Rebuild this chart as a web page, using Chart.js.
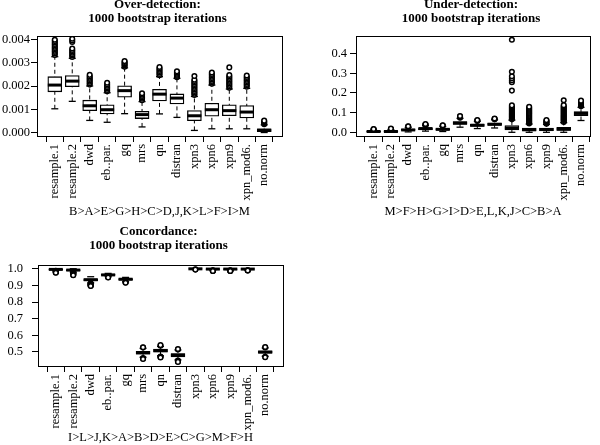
<!DOCTYPE html>
<html>
<head>
<meta charset="utf-8">
<script src="https://cdn.jsdelivr.net/npm/chart.js@4.4.1/dist/chart.umd.min.js"></script>
<style>
  html, body { margin: 0; padding: 0; background: #fff; }
  #wrap { position: relative; width: 600px; height: 445px; overflow: hidden; }
  canvas { position: absolute; }
</style>
</head>
<body>
<div id="wrap">
  <canvas id="over" width="300" height="222" style="left:0;top:0"></canvas>
  <canvas id="under" width="300" height="222" style="left:300px;top:0"></canvas>
  <canvas id="conc" width="300" height="223" style="left:0;top:222px"></canvas>
</div>
<script>
const methods = ['resample.1', 'resample.2', 'dwd', 'eb..par.', 'gq', 'mrs', 'qn', 'distran', 'xpn3', 'xpn6', 'xpn9', 'xpn_mod6.', 'no.norm'];

// Over-detection
const overLo  = [0.00102, 0.00134, 0.00052, 0.00044, 0.00081, 0.00024, 0.0008, 0.00065, 0.00009, 0.00016, 0.00016, 0.00016, 0.0];
const overQ1  = [0.00175, 0.00197, 0.00094, 0.0008, 0.00152, 0.0006, 0.00136, 0.00123, 0.00051, 0.0007, 0.00072, 0.00063, 0.00004];
const overMed = [0.00204, 0.00221, 0.00115, 0.00098, 0.0018, 0.00077, 0.00165, 0.00148, 0.00072, 0.00098, 0.00094, 0.00088, 0.0001];
const overQ3  = [0.0024, 0.00245, 0.00139, 0.00119, 0.00201, 0.00091, 0.00186, 0.00166, 0.00094, 0.00126, 0.00119, 0.00116, 0.00016];
const overHi  = [0.00326, 0.00319, 0.002, 0.00171, 0.00278, 0.00133, 0.0024, 0.00233, 0.00155, 0.00204, 0.00187, 0.0019, 0.00033];
const overOut = [
  [0.00333, 0.0034, 0.00346, 0.00352, 0.00358, 0.00363, 0.00369, 0.00375, 0.00381, 0.00387, 0.00393, 0.00399],
  [0.00325, 0.00331, 0.00337, 0.00343, 0.00349, 0.00355, 0.00361, 0.00389, 0.00396, 0.00403],
  [0.00206, 0.00212, 0.00218, 0.00224, 0.0023, 0.00236, 0.00242, 0.00248],
  [0.00177, 0.00183, 0.00189, 0.00195, 0.00201, 0.00207, 0.00214],
  [0.00283, 0.00288, 0.00293, 0.00298, 0.00303, 0.00307],
  [0.00139, 0.00145, 0.00151, 0.00157, 0.00163, 0.00169],
  [0.00246, 0.00252, 0.00258, 0.00264, 0.0027, 0.00276, 0.00282],
  [0.00238, 0.00243, 0.00248, 0.00253, 0.00258, 0.00263],
  [0.00161, 0.00167, 0.00173, 0.00179, 0.00185, 0.00191, 0.00197, 0.00203, 0.00209, 0.00215, 0.00221, 0.00227, 0.00243],
  [0.0021, 0.00216, 0.00222, 0.00228, 0.00234, 0.0024, 0.00246, 0.00252, 0.00258],
  [0.00193, 0.00199, 0.00205, 0.00211, 0.00217, 0.00223, 0.00229, 0.00235, 0.00241, 0.00247, 0.0028],
  [0.00197, 0.00203, 0.00209, 0.00215, 0.00221, 0.00227, 0.00233, 0.00239, 0.00245],
  [0.00036, 0.0004, 0.00044, 0.00048, 0.00051]
];
const overTicks = [0, 0.001, 0.002, 0.003, 0.004];
const overTickLabels = ['0.000', '0.001', '0.002', '0.003', '0.004'];

// Under-detection
const underLo  = [0, 0, 0.002, 0.006, 0.004, 0.026, 0.019, 0.022, 0, 0, 0, 0, 0.06];
const underQ1  = [0.002, 0.002, 0.009, 0.014, 0.011, 0.04, 0.03, 0.035, 0.012, 0.007, 0.008, 0.009, 0.085];
const underMed = [0.004, 0.004, 0.012, 0.019, 0.015, 0.047, 0.036, 0.041, 0.022, 0.013, 0.014, 0.016, 0.096];
const underQ3  = [0.006, 0.007, 0.016, 0.023, 0.019, 0.054, 0.041, 0.047, 0.034, 0.021, 0.021, 0.025, 0.106];
const underHi  = [0.011, 0.013, 0.025, 0.034, 0.03, 0.071, 0.056, 0.064, 0.062, 0.042, 0.04, 0.049, 0.127];
const underOut = [
  [0.013, 0.015, 0.017],
  [0.015, 0.017, 0.019],
  [0.027, 0.029, 0.031],
  [0.036, 0.038, 0.04, 0.042],
  [0.032, 0.034, 0.036],
  [0.074, 0.077, 0.08, 0.083],
  [0.058, 0.06, 0.062],
  [0.066, 0.068, 0.07],
  [0.066, 0.071, 0.076, 0.081, 0.086, 0.091, 0.096, 0.101, 0.106, 0.111, 0.116, 0.121, 0.126, 0.131, 0.137, 0.212, 0.255, 0.265, 0.275, 0.285, 0.308, 0.471],
  [0.045, 0.05, 0.055, 0.06, 0.065, 0.07, 0.075, 0.08, 0.085, 0.09, 0.095, 0.1, 0.105, 0.11, 0.115, 0.12, 0.125, 0.13],
  [0.043, 0.047, 0.051, 0.055, 0.059, 0.062],
  [0.052, 0.057, 0.062, 0.067, 0.072, 0.077, 0.082, 0.087, 0.092, 0.097, 0.102, 0.107, 0.112, 0.117, 0.122, 0.127, 0.132, 0.138, 0.163],
  [0.132, 0.137, 0.142, 0.147, 0.152, 0.157, 0.161]
];
const underTicks = [0, 0.1, 0.2, 0.3, 0.4];
const underTickLabels = ['0.0', '0.1', '0.2', '0.3', '0.4'];

// Concordance
const concLo  = [0.99, 0.98, 0.915, 0.953, 0.922, 0.468, 0.477, 0.452, 0.997, 0.992, 0.992, 0.993, 0.474];
const concQ1  = [0.994, 0.988, 0.928, 0.96, 0.932, 0.487, 0.498, 0.47, 0.999, 0.996, 0.996, 0.997, 0.492];
const concMed = [0.996, 0.992, 0.934, 0.963, 0.937, 0.495, 0.508, 0.481, 0.9995, 0.998, 0.998, 0.998, 0.499];
const concQ3  = [0.998, 0.995, 0.94, 0.966, 0.941, 0.503, 0.517, 0.49, 1.0, 0.999, 0.999, 0.999, 0.506];
const concHi  = [1.0, 1.0, 0.952, 0.972, 0.948, 0.522, 0.533, 0.512, 1.0, 1.0, 1.0, 1.0, 0.524];
const concOut = [
  [0.988, 0.986, 0.984, 0.982, 0.98, 0.978, 0.976],
  [0.978, 0.976, 0.974, 0.972, 0.969, 0.966, 0.963, 0.961],
  [0.912, 0.91, 0.908, 0.906, 0.904, 0.902, 0.9, 0.898, 0.896],
  [0.951, 0.949, 0.947],
  [0.92, 0.918, 0.916],
  [0.526, 0.528, 0.464, 0.461, 0.458],
  [0.537, 0.541, 0.473, 0.47, 0.467],
  [0.515, 0.518, 0.449, 0.446, 0.443, 0.44],
  [0.996, 0.995],
  [0.99, 0.989, 0.988, 0.987, 0.986],
  [0.99, 0.989, 0.988, 0.987, 0.986],
  [0.991, 0.99, 0.989],
  [0.527, 0.53, 0.471, 0.468]
];
const concTicks = [0.5, 0.6, 0.7, 0.8, 0.9, 1.0];
const concTickLabels = ['0.5', '0.6', '0.7', '0.8', '0.9', '1.0'];

const titles = [
  ['Over-detection:', '1000 bootstrap iterations'],
  ['Under-detection:', '1000 bootstrap iterations'],
  ['Concordance:', '1000 bootstrap iterations']
];
const rankings = ['B>A>E>G>H>C>D,J,K>L>F>I>M', 'M>F>H>G>I>D>E,L,K,J>C>B>A', 'I>L>J,K>A>B>D>E>C>G>M>F>H'];

const FONT = '"Liberation Serif", serif';
Chart.defaults.font.family = FONT;
Chart.defaults.color = '#000';

// box around the plot region, like R's box()
const framePlugin = {
  id: 'frame',
  afterDraw(chart) {
    const a = chart.chartArea;
    const ctx = chart.ctx;
    ctx.save();
    ctx.strokeStyle = '#000';
    ctx.lineWidth = 1;
    ctx.strokeRect(Math.round(a.left) + 0.5, Math.round(a.top) + 0.5, Math.round(a.right - a.left), Math.round(a.bottom - a.top));
    ctx.restore();
  }
};

// two-line bold title centred over the plot region
const titlePlugin = {
  id: 'panelTitle',
  afterDraw(chart, args, opts) {
    const a = chart.chartArea;
    const ctx = chart.ctx;
    ctx.save();
    ctx.font = 'bold 13px ' + FONT;
    ctx.fillStyle = '#000';
    ctx.textAlign = 'center';
    ctx.textBaseline = 'middle';
    opts.lines.forEach((t, k) => ctx.fillText(t, (a.left + a.right) / 2 - 2, opts.y[k]));
    ctx.restore();
  }
};

function drawPanel(id, p) {
  const xs = methods.map((m, i) => i + 1);

  const whiskers = [];
  xs.forEach((x, i) => {
    whiskers.push({ x, y: p.lo[i] }, { x, y: p.hi[i] }, { x, y: null });
  });
  const caps = xs.flatMap((x, i) => [{ x, y: p.lo[i] }, { x, y: p.hi[i] }]);
  const boxes = xs.map((x, i) => ({ x, y: [p.q1[i], p.q3[i]] }));
  const medians = xs.map((x, i) => ({ x, y: p.med[i] }));
  const outliers = p.out.flatMap((vals, i) => vals.map(v => ({ x: i + 1, y: v })));

  return new Chart(document.getElementById(id), {
    type: 'bar',
    data: {
      datasets: [
        {
          type: 'line', data: whiskers, order: 5,
          borderColor: '#000', borderWidth: 1, borderDash: [4, 3],
          pointRadius: 0, spanGaps: false
        },
        {
          type: 'line', data: caps, order: 4, showLine: false,
          pointStyle: 'line', pointRadius: 3.5, pointBorderWidth: 1.3, pointBorderColor: '#000'
        },
        {
          data: boxes, order: 3,
          backgroundColor: '#fff', borderColor: '#000', borderWidth: 1.3,
          borderSkipped: false, barThickness: 14
        },
        {
          type: 'line', data: medians, order: 2, showLine: false,
          pointStyle: 'line', pointRadius: 7, pointBorderWidth: 3, pointBorderColor: '#000'
        },
        {
          type: 'line', data: outliers, order: 1, showLine: false,
          pointStyle: 'circle', pointRadius: 2.3, pointBorderWidth: 1.5,
          pointBorderColor: '#000', pointBackgroundColor: '#fff'
        }
      ]
    },
    options: {
      responsive: false,
      animation: false,
      layout: { padding: { top: p.top, right: p.right, left: 0, bottom: 0 } },
      plugins: {
        legend: { display: false },
        tooltip: { enabled: false },
        panelTitle: { lines: p.title, y: p.titleY }
      },
      scales: {
        x: {
          type: 'linear',
          min: p.xMin,
          max: p.xMax,
          offset: false,
          afterBuildTicks: s => { s.ticks = xs.map(v => ({ value: v })); },
          afterFit: s => { s.height = p.xHeight; },
          ticks: {
            autoSkip: false, minRotation: 90, maxRotation: 90, padding: 2,
            color: '#000', font: { size: 12.5 },
            callback: (v, i) => methods[i]
          },
          grid: { drawOnChartArea: false, tickLength: 6, color: '#000' },
          border: { display: false },
          title: {
            display: true, text: p.rank, color: '#000',
            font: { size: 12.5 }, padding: { top: 0, bottom: p.rankPad }
          }
        },
        y: {
          type: 'linear',
          min: p.yMin,
          max: p.yMax,
          afterBuildTicks: s => { s.ticks = p.ticks.map(v => ({ value: v })); },
          afterFit: s => { s.width = p.yWidth; },
          ticks: {
            padding: p.yPad, color: '#000', font: { size: 12.5 },
            callback: (v, i) => p.tickLabels[i]
          },
          grid: { drawOnChartArea: false, tickLength: 6, color: '#000' },
          border: { display: false }
        }
      }
    },
    plugins: [framePlugin, titlePlugin]
  });
}

drawPanel('over', {
  lo: overLo, q1: overQ1, med: overMed, q3: overQ3, hi: overHi, out: overOut,
  ticks: overTicks, tickLabels: overTickLabels, title: titles[0], rank: rankings[0],
  yMin: -0.00015, yMax: 0.00415, xMin: -0.02, xMax: 14.02,
  top: 36, right: 18, yWidth: 37, xHeight: 86, yPad: 1, rankPad: 3, titleY: [5, 19]
});

drawPanel('under', {
  lo: underLo, q1: underQ1, med: underMed, q3: underQ3, hi: underHi, out: underOut,
  ticks: underTicks, tickLabels: underTickLabels, title: titles[1], rank: rankings[1],
  yMin: -0.0188, yMax: 0.4898, xMin: -0.02, xMax: 13.52,
  top: 36, right: 8, yWidth: 56, xHeight: 86, yPad: 3, rankPad: 3, titleY: [5, 19]
});

drawPanel('conc', {
  lo: concLo, q1: concQ1, med: concMed, q3: concQ3, hi: concHi, out: concOut,
  ticks: concTicks, tickLabels: concTickLabels, title: titles[2], rank: rankings[2],
  yMin: 0.4155, yMax: 1.0225, xMin: -0.02, xMax: 14.02,
  top: 43, right: 17, yWidth: 38, xHeight: 79, yPad: 9, rankPad: 0, titleY: [10, 24]
});
</script>
</body>
</html>
